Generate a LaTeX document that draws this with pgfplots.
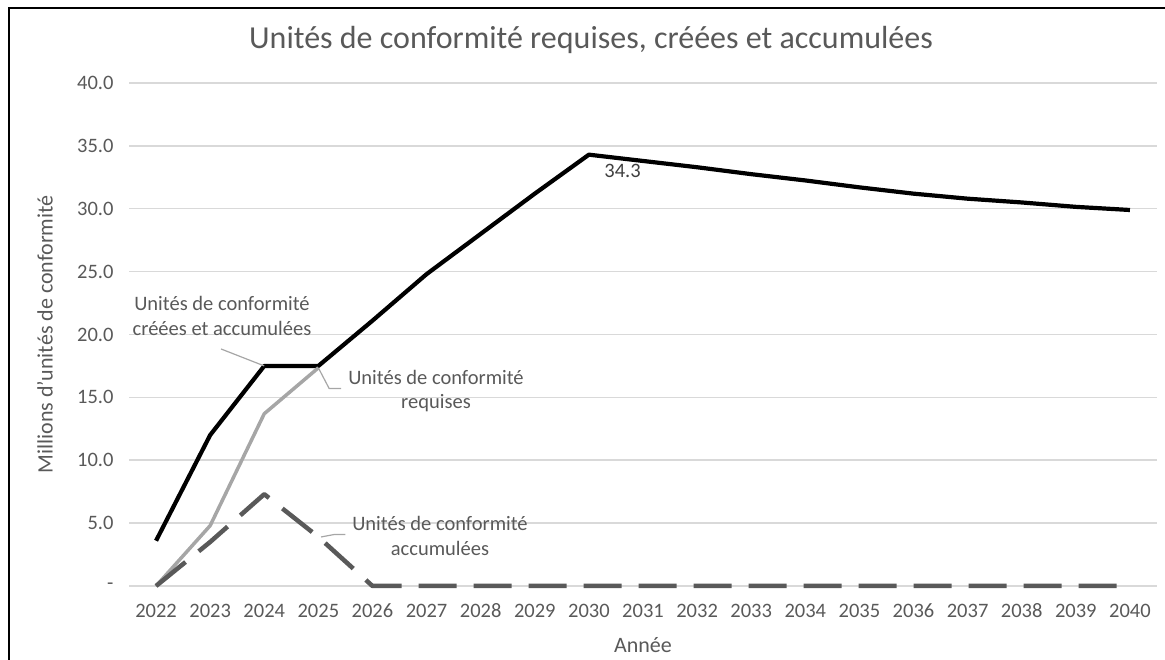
\documentclass[border=0pt]{standalone}
\usepackage{fontspec}
\setmainfont{Carlito}
\usepackage{pgfplots}
\pgfplotsset{compat=1.18}
\definecolor{txt}{HTML}{595959}
\definecolor{gridc}{HTML}{D9D9D9}
\definecolor{lgray}{HTML}{A6A6A6}
\definecolor{dgray}{HTML}{595959}
\definecolor{lead}{HTML}{A6A6A6}
\begin{document}
\begin{tikzpicture}[x=1pt,y=1pt]
\path[use as bounding box] (0,0) rectangle (1165,660);
\draw[line width=2.5pt] (9,0) -- (9,652) -- (1165,652);
\node[txt, font=\fontsize{32}{36}\selectfont] at (591,620) {Unités de conformité requises, créées et accumulées};
\begin{axis}[at={(129pt,74pt)}, anchor=south west, scale only axis,
  width=1028pt, height=503pt,
  xmin=-0.5, xmax=18.5, ymin=0, ymax=40,
  clip=false,
  xtick={0,1,2,3,4,5,6,7,8,9,10,11,12,13,14,15,16,17,18},
  xticklabels={2022,2023,2024,2025,2026,2027,2028,2029,2030,2031,2032,2033,2034,2035,2036,2037,2038,2039,2040},
  ytick={0,5,10,15,20,25,30,35,40},
  yticklabels={-,5.0,10.0,15.0,20.0,25.0,30.0,35.0,40.0},
  axis line style={draw=none},
  major tick length=0pt,
  ymajorgrids, grid style={gridc, line width=1.5pt},
  tick label style={txt, font=\fontsize{20.5}{24}\selectfont},
  xticklabel style={anchor=base, yshift=-32pt},
  yticklabel style={xshift=-12pt},
  label style={txt, font=\fontsize{22}{26}\selectfont},
  xlabel={Année},
  ylabel={Millions d'unités de conformité},
  xlabel style={at={(axis description cs:0.5,-0.1173)}, anchor=center},
  ylabel style={at={(axis description cs:-0.0817,0.5)}, anchor=center},
  line join=round,
]
% Unités de conformité créées et accumulées
\addplot[black, line width=4.2pt] coordinates {
(0,3.6) (1,12.0) (2,17.5) (3,17.5) (4,21.1) (5,24.8) (6,28.0) (7,31.2) (8,34.3)
(9,33.8) (10,33.3) (11,32.75) (12,32.25) (13,31.7) (14,31.2) (15,30.8) (16,30.5) (17,30.15) (18,29.9)};
% Unités de conformité requises
\addplot[lgray, line width=3.5pt] coordinates {
(0,0) (1,4.8) (2,13.7) (3,17.35)};
% Unités de conformité accumulées
\addplot[dgray, line width=4.5pt, dash pattern=on 38pt off 17pt] coordinates {
(0,0) (1,3.5) (2,7.3) (3,3.9) (4,0) (5,0) (6,0) (7,0) (8,0) (9,0) (10,0) (11,0) (12,0) (13,0) (14,0) (15,0) (16,0) (17,0) (18,0)};
\node[anchor=north west, text=black!75, font=\fontsize{20.5}{24}\selectfont] at (axis cs:8,34.3) [xshift=12pt, yshift=-6pt] {34.3};
\draw[lead, line width=1.2pt] (axis cs:1.2,18.85) -- (axis cs:2,17.5);
\draw[lead, line width=1.2pt] (axis cs:3,17.35) -- (axis cs:3.2,15.7) -- (axis cs:3.42,15.7);
\draw[lead, line width=1.2pt] (axis cs:3.05,3.9) -- (axis cs:3.3,4.1) -- (axis cs:3.5,4.1);
\end{axis}
\node[txt, align=center, font=\fontsize{20.5}{24.5}\selectfont] at (222,344) {Unités de conformité\\créées et accumulées};
\node[txt, align=center, font=\fontsize{20.5}{24.5}\selectfont] at (436,269) {Unités de conformité\\requises};
\node[txt, align=center, font=\fontsize{20.5}{24.5}\selectfont] at (440,124) {Unités de conformité\\accumulées};
\end{tikzpicture}
\end{document}
